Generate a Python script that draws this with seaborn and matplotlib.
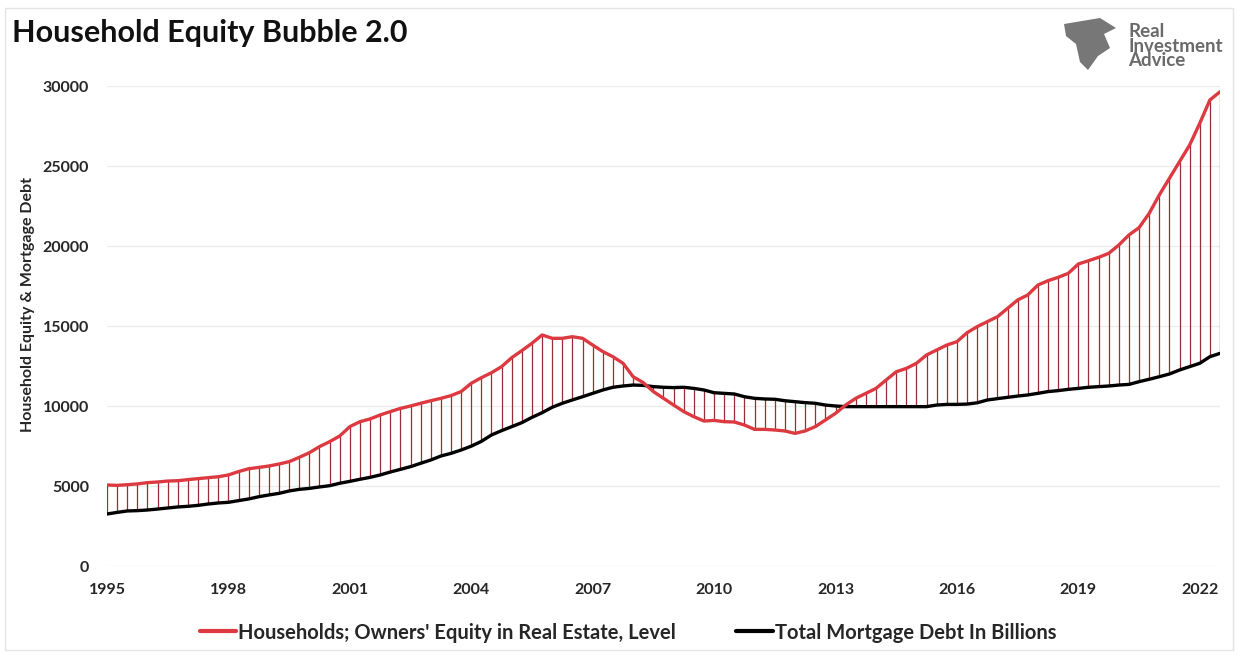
import matplotlib
matplotlib.use('Agg')
import matplotlib.pyplot as plt
import matplotlib.patches as mpatches
import pandas as pd
import seaborn as sns

sns.set_theme(style='white')
plt.rcParams['font.family'] = ['Lato', 'DejaVu Sans']

# quarterly data, 1995 Q1 - 2022 Q3 (billions)
quarters = pd.period_range('1995Q1', '2022Q3', freq='Q')

equity = [
    5060, 5040, 5080, 5130, 5210, 5250, 5310, 5330, 5400, 5460, 5520, 5580,          # 1995-1997
    5690, 5900, 6080, 6160, 6250, 6375, 6520, 6790, 7080, 7460, 7770, 8125,          # 1998-2000
    8710, 9020, 9190, 9440, 9650, 9850, 10000, 10170, 10330, 10480, 10650, 10900,    # 2001-2003
    11420, 11770, 12080, 12460, 13020, 13460, 13920, 14440, 14230, 14230, 14330, 14230,  # 2004-2006
    13810, 13400, 13080, 12670, 11830, 11460, 10900, 10480, 10060, 9650, 9330, 9060,  # 2007-2009
    9100, 9020, 9000, 8810, 8540, 8540, 8500, 8440, 8290, 8440, 8710, 9125,          # 2010-2012
    9540, 10060, 10480, 10790, 11100, 11625, 12140, 12350, 12670, 13190, 13500, 13810,  # 2013-2015
    14020, 14580, 14960, 15270, 15580, 16100, 16625, 16940, 17560, 17830, 18040, 18290,  # 2016-2018
    18875, 19080, 19290, 19540, 20060, 20690, 21145, 22040, 23190, 24230, 25270, 26310,  # 2019-2021
    27670, 29125, 29640,                                                              # 2022
]

debt = [
    3250, 3350, 3440, 3460, 3500, 3560, 3625, 3690, 3730, 3790, 3875, 3940,
    3980, 4085, 4190, 4330, 4440, 4540, 4690, 4790, 4850, 4940, 5020, 5170,
    5290, 5420, 5540, 5690, 5875, 6040, 6210, 6420, 6625, 6875, 7040, 7250,
    7490, 7790, 8190, 8460, 8710, 8960, 9290, 9580, 9920, 10170, 10380, 10580,
    10790, 11000, 11170, 11250, 11310, 11290, 11210, 11170, 11150, 11170, 11100, 11000,
    10830, 10790, 10750, 10580, 10480, 10440, 10420, 10330, 10270, 10210, 10170, 10060,
    10000, 9960, 9960, 9960, 9960, 9960, 9960, 9960, 9960, 9960, 10060, 10100,
    10100, 10120, 10200, 10375, 10460, 10540, 10620, 10690, 10790, 10900, 10960, 11040,
    11100, 11170, 11210, 11250, 11310, 11350, 11520, 11670, 11830, 12000, 12250, 12460,
    12670, 13080, 13290,
]

year_ticks = [1995, 1998, 2001, 2004, 2007, 2010, 2013, 2016, 2019, 2022]
y_ticks = [0, 5000, 10000, 15000, 20000, 25000, 30000]

equity_label = "Households; Owners' Equity in Real Estate, Level"
debt_label = 'Total Mortgage Debt In Billions'

df = pd.DataFrame({
    'x': quarters.year + (quarters.quarter - 1) / 4,
    'equity': equity,
    'debt': debt,
})

fig = plt.figure(figsize=(12.39, 6.57), dpi=100)
ax = fig.add_axes([107 / 1239, 1 - 566 / 657, (1220 - 107) / 1239, 480 / 657])

# hi-lo lines between the two series
ax.vlines(df['x'], df['debt'], df['equity'], color='#9a2e33', linewidth=0.9, zorder=1)

sns.lineplot(data=df, x='x', y='equity', color='#dc3a40', linewidth=2.4, ax=ax,
             label=equity_label, zorder=3)
sns.lineplot(data=df, x='x', y='debt', color='black', linewidth=2.4, ax=ax,
             label=debt_label, zorder=2)

ax.set_xlim(1995, 2022.5)
ax.set_ylim(0, 30000)
ax.set_xticks(year_ticks)
ax.set_xticklabels([str(y) for y in year_ticks])
ax.set_yticks(y_ticks)
ax.grid(axis='y', color='#ececec', linewidth=1)
ax.grid(axis='x', visible=False)
for s in ax.spines.values():
    s.set_visible(False)
ax.tick_params(axis='both', length=0, labelsize=11.5, colors='#262626')
ax.tick_params(axis='y', pad=13)
ax.tick_params(axis='x', pad=12)
for lab in ax.get_xticklabels() + ax.get_yticklabels():
    lab.set_fontweight('bold')

ax.set_xlabel('')
ax.set_ylabel('Household Equity & Mortgage Debt', fontsize=11.5, fontweight='bold', color='#262626')
ax.yaxis.set_label_coords(-0.065, 0.544)

leg = ax.legend(loc='upper center', bbox_to_anchor=(0.468, -0.08), ncol=2, frameon=False,
                fontsize=14.5, handlelength=1.8, handletextpad=0.1, columnspacing=3.0)
for t in leg.get_texts():
    t.set_fontweight('bold')
    t.set_color('#262626')
for h in leg.legend_handles:
    h.set_linewidth(3)

# title
fig.text(12 / 1239, 1 - 33 / 657, 'Household Equity Bubble 2.0', fontsize=22,
         fontweight='bold', color='#111111', va='center', ha='left')

# logo
fig.text(1128 / 1239, 1 - 46 / 657, 'Real\nInvestment\nAdvice', fontsize=13.5,
         fontweight='bold', color='#6a6a6a', va='center', ha='left', linespacing=0.85)
shield = mpatches.Polygon(
    [[x / 1239, 1 - y / 657] for x, y in
     [[1064, 24], [1100, 18], [1116, 28], [1104, 34], [1110, 48], [1098, 56],
      [1088, 70], [1080, 62], [1076, 44], [1066, 36]]],
    closed=True, transform=fig.transFigure, facecolor='#777777', edgecolor='none')
fig.patches.append(shield)

# faint chart border
border = mpatches.Rectangle((5 / 1239, 1 - 650 / 657), 1228 / 1239, 642 / 657,
                            transform=fig.transFigure, fill=False,
                            edgecolor='#e4e4e4', linewidth=1)
fig.patches.append(border)

fig.savefig('out.png', dpi=100)
